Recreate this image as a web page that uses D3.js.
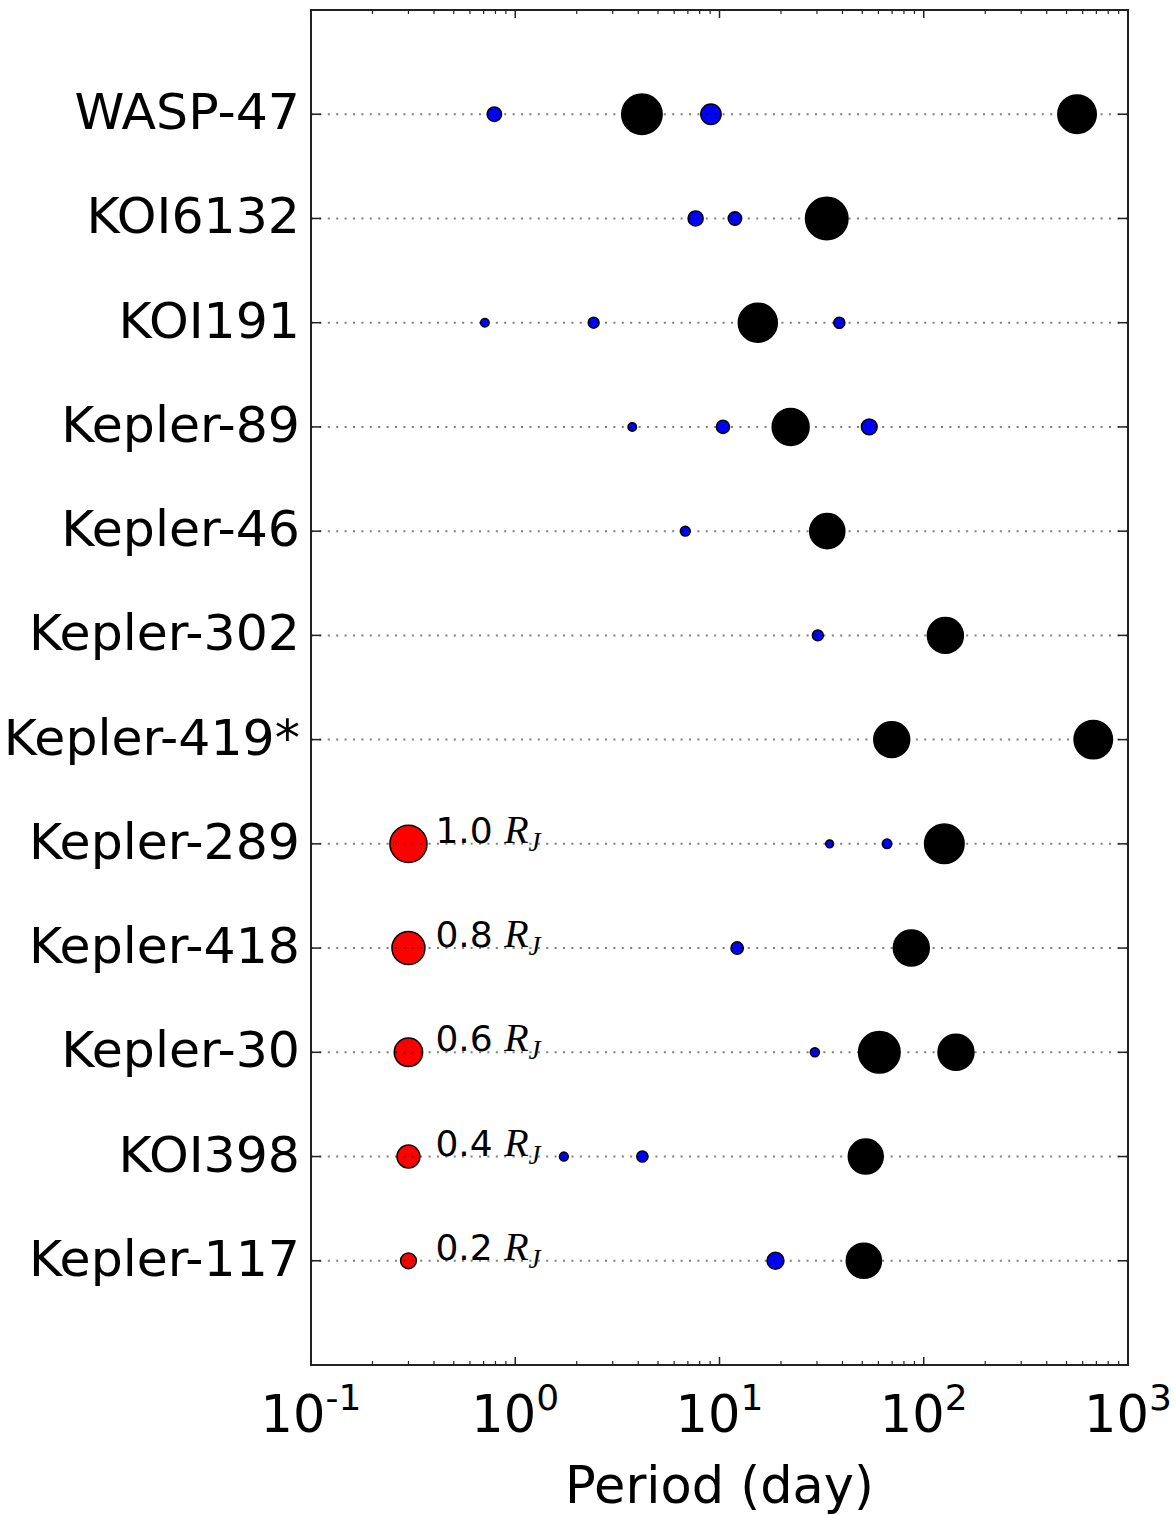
<!DOCTYPE html>
<html>
<head>
<meta charset="utf-8">
<script src="https://cdn.jsdelivr.net/npm/d3@7"></script>
<style>
  html, body { margin: 0; padding: 0; background: #fff; }
  svg { display: block; }
</style>
</head>
<body>
<svg id="chart" width="1176" height="1515"></svg>
<script>
// ---- data ----
const systems = ["WASP-47","KOI6132","KOI191","Kepler-89","Kepler-46","Kepler-302",
                 "Kepler-419*","Kepler-289","Kepler-418","Kepler-30","KOI398","Kepler-117"];

const planetSystem = [0,0,0,0, 1,1,1, 2,2,2,2, 3,3,3,3, 4,4, 5,5, 6,6, 7,7,7, 8,8, 9,9,9, 10,10,10, 11,11];
const planetPeriod = [0.79,4.17,9.08,563, 7.64,11.9,33.5, 0.71,2.42,15.4,38.6, 3.74,10.4,22.3,54.1,
                      6.8,33.7, 30.3,127.6, 69.7,676, 34.6,66.1,126.1, 12.2,86.9, 29.3,60.6,143.8,
                      1.73,4.19,52.0, 18.8,50.9];
const planetRadius = [0.17,1.18,0.32,1.07, 0.185,0.15,1.30, 0.067,0.103,1.10,0.107, 0.067,0.143,0.99,0.2,
                      0.087,0.90, 0.103,0.94, 0.94,1.07, 0.059,0.081,1.13, 0.13,0.94, 0.075,1.24,0.94,
                      0.072,0.107,0.89, 0.227,0.90];
const planetGiant  = [0,1,0,1, 0,0,1, 0,0,1,0, 0,0,1,0, 0,1, 0,1, 1,1, 0,0,1, 0,1, 0,1,1, 0,0,1, 0,1];

const legendRadii = [1.0, 0.8, 0.6, 0.4, 0.2];
const legendLabels = ["1.0", "0.8", "0.6", "0.4", "0.2"];
const legendRows = [7, 8, 9, 10, 11];
const legendPeriod = 0.3;

const xTicks = [0.1, 1, 10, 100, 1000];
const xTickExp = ["-1", "0", "1", "2", "3"];

// ---- layout ----
const svg = d3.select("#chart");
const L = 311, R = 1128, T = 10, B = 1365;

const x = d3.scaleLog().domain([0.1, 1000]).range([L, R]);
const y = d3.scaleLinear().domain([-1, 12]).range([T, B]);
const rScale = d3.scaleSqrt().domain([0, 1]).range([0, 19.3]);

const planets = planetPeriod.map((p, i) => ({
  p, sys: planetSystem[i], r: planetRadius[i], giant: planetGiant[i]
}));

// circles
const gPts = svg.append("g");
gPts.selectAll("circle.pl").data(planets).enter().append("circle")
  .attr("class", "pl")
  .attr("cx", d => x(d.p))
  .attr("cy", d => y(d.sys))
  .attr("r", d => Math.max(1, rScale(d.r) - 0.75))
  .attr("fill", d => d.giant ? "#000" : "#0000ff")
  .attr("stroke", "#000")
  .attr("stroke-width", 1.5);

const legend = legendRadii.map((r, i) => ({ r, row: legendRows[i], label: legendLabels[i] }));
gPts.selectAll("circle.lg").data(legend).enter().append("circle")
  .attr("class", "lg")
  .attr("cx", x(legendPeriod))
  .attr("cy", d => y(d.row))
  .attr("r", d => rScale(d.r) - 0.75)
  .attr("fill", "#ff0000")
  .attr("stroke", "#000")
  .attr("stroke-width", 1.5);

// dotted row lines (on top of circles)
svg.append("g").selectAll("line").data(systems).enter().append("line")
  .attr("x1", L).attr("x2", R)
  .attr("y1", (d, i) => y(i)).attr("y2", (d, i) => y(i))
  .attr("stroke", "#000")
  .attr("stroke-opacity", 0.5)
  .attr("stroke-width", 2)
  .attr("stroke-dasharray", "2 6.4");

// legend labels
const lt = svg.append("g").selectAll("text").data(legend).enter().append("text")
  .attr("x", x(legendPeriod) + 27)
  .attr("y", d => y(d.row) - 1)
  .attr("font-family", "DejaVu Sans")
  .attr("font-size", 36)
  .attr("fill", "#000");
lt.append("tspan").text(d => d.label + " ");
lt.append("tspan").attr("font-family", "Liberation Serif").attr("font-style", "italic")
  .attr("font-size", 40).text("R");
lt.append("tspan").attr("font-family", "Liberation Serif").attr("font-style", "italic")
  .attr("font-size", 27).attr("dy", 8).text("J");

// frame
svg.append("rect")
  .attr("x", L).attr("y", T).attr("width", R - L).attr("height", B - T)
  .attr("fill", "none").attr("stroke", "#222").attr("stroke-width", 2);

// x ticks (inward, top and bottom)
const minor = [];
for (let e = -1; e < 3; e++) for (let m = 2; m <= 9; m++) minor.push(m * Math.pow(10, e));
const gt = svg.append("g").attr("stroke", "#222");
xTicks.forEach(v => {
  gt.append("line").attr("x1", x(v)).attr("x2", x(v)).attr("y1", B).attr("y2", B - 8).attr("stroke-width", 1.5);
  gt.append("line").attr("x1", x(v)).attr("x2", x(v)).attr("y1", T).attr("y2", T + 8).attr("stroke-width", 1.5);
});
minor.forEach(v => {
  gt.append("line").attr("x1", x(v)).attr("x2", x(v)).attr("y1", B).attr("y2", B - 4).attr("stroke-width", 1.2);
  gt.append("line").attr("x1", x(v)).attr("x2", x(v)).attr("y1", T).attr("y2", T + 4).attr("stroke-width", 1.2);
});
// y ticks
systems.forEach((s, i) => {
  gt.append("line").attr("x1", L).attr("x2", L + 10).attr("y1", y(i)).attr("y2", y(i)).attr("stroke-width", 1.5);
  gt.append("line").attr("x1", R).attr("x2", R - 10).attr("y1", y(i)).attr("y2", y(i)).attr("stroke-width", 1.5);
});

// y labels
svg.append("g").selectAll("text").data(systems).enter().append("text")
  .attr("x", 300)
  .attr("y", (d, i) => y(i) + 15)
  .attr("text-anchor", "end")
  .attr("font-family", "DejaVu Sans")
  .attr("font-size", 50.5)
  .attr("fill", "#000")
  .text(d => d);

// x tick labels
const xl = svg.append("g").selectAll("text").data(xTicks).enter().append("text")
  .attr("x", d => x(d))
  .attr("y", 1432)
  .attr("text-anchor", "middle")
  .attr("font-family", "DejaVu Sans")
  .attr("font-size", 51)
  .attr("fill", "#000");
xl.append("tspan").text("10");
xl.append("tspan").attr("font-size", 36).attr("dy", -22).text((d, i) => xTickExp[i]);

// x axis title
svg.append("text")
  .attr("x", (L + R) / 2)
  .attr("y", 1503)
  .attr("text-anchor", "middle")
  .attr("font-family", "DejaVu Sans")
  .attr("font-size", 51)
  .attr("fill", "#000")
  .text("Period (day)");
</script>
</body>
</html>
